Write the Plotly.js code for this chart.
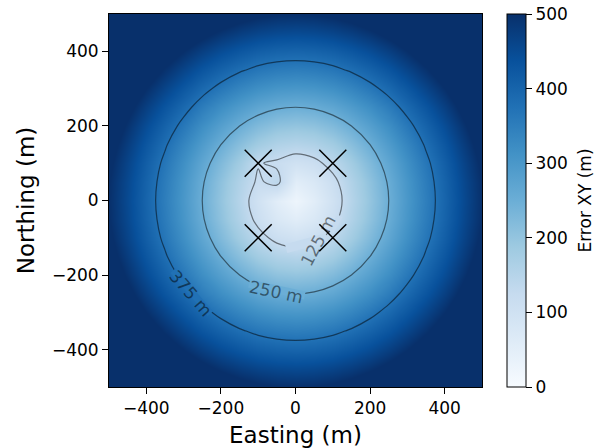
<!DOCTYPE html>
<html>
<head>
<meta charset="utf-8">
<script src="https://cdn.plot.ly/plotly-3.0.1.min.js"></script>
<style>html,body{margin:0;padding:0;background:#fff;}#chart{width:599px;height:448px;}</style>
</head>
<body>
<div id="chart"></div>
<script>
// Grid coordinates (m)
const easting = [-500,-450,-400,-350,-300,-250,-200,-150,-100,-50,0,50,100,150,200,250,300,350,400,450,500];
const northing = [-500,-450,-400,-350,-300,-250,-200,-150,-100,-50,0,50,100,150,200,250,300,350,400,450,500];

// Error XY (m), rows = northing (south to north), columns = easting (west to east)
const errorXY = [
  [707,673,640,610,583,559,539,522,510,502,500,502,510,522,539,559,583,610,640,673,707],
  [673,636,602,570,541,515,492,474,461,453,450,453,461,474,492,515,541,570,602,636,673],
  [640,602,566,532,500,472,447,427,412,403,400,403,412,427,447,472,500,532,566,602,640],
  [610,570,532,495,461,430,403,381,364,354,350,354,364,381,403,430,461,495,532,570,610],
  [583,541,500,461,424,391,361,335,316,304,300,304,316,335,361,391,424,461,500,541,583],
  [559,515,472,430,391,354,320,292,269,255,250,255,269,292,320,354,391,430,472,515,559],
  [539,492,447,403,361,320,283,250,224,206,200,206,224,250,283,320,361,403,447,492,539],
  [522,474,427,381,335,292,250,212,180,158,150,158,180,212,250,292,335,381,427,474,522],
  [510,461,412,364,316,269,224,180,141,112,100,112,141,180,224,269,316,364,412,461,510],
  [502,453,403,354,304,255,206,158,112,75,55,75,112,158,206,255,304,354,403,453,502],
  [500,450,400,350,300,250,200,150,100,55,25,55,100,150,200,250,300,350,400,450,500],
  [502,453,403,354,304,255,206,158,118,140,55,75,112,158,206,255,304,354,403,453,502],
  [510,461,412,364,316,269,224,180,128,118,100,112,141,180,224,269,316,364,412,461,510],
  [522,474,427,381,335,292,250,212,180,158,150,158,180,212,250,292,335,381,427,474,522],
  [539,492,447,403,361,320,283,250,224,206,200,206,224,250,283,320,361,403,447,492,539],
  [559,515,472,430,391,354,320,292,269,255,250,255,269,292,320,354,391,430,472,515,559],
  [583,541,500,461,424,391,361,335,316,304,300,304,316,335,361,391,424,461,500,541,583],
  [610,570,532,495,461,430,403,381,364,354,350,354,364,381,403,430,461,495,532,570,610],
  [640,602,566,532,500,472,447,427,412,403,400,403,412,427,447,472,500,532,566,602,640],
  [673,636,602,570,541,515,492,474,461,453,450,453,461,474,492,515,541,570,602,636,673],
  [707,673,640,610,583,559,539,522,510,502,500,502,510,522,539,559,583,610,640,673,707]
];

// Station positions (m)
const stationE = [-100, 100, -100, 100];
const stationN = [100, 100, -100, -100];

// Contour levels and labels
const contourLevels = [125, 250, 375];
const contourLabels = ['125 m', '250 m', '375 m'];

// Tick labels
const axisTickVals = [-400, -200, 0, 200, 400];
const axisTickText = ['\u2212400', '\u2212200', '0', '200', '400'];
const cbTickVals = [0, 100, 200, 300, 400, 500];
const cbTickText = ['0', '100', '200', '300', '400', '500'];

const blues = [
  [0.0, '#f7fbff'], [0.125, '#deebf7'], [0.25, '#c6dbef'], [0.375, '#9ecae1'],
  [0.5, '#6baed6'], [0.625, '#4292c6'], [0.75, '#2171b5'], [0.875, '#08519c'], [1.0, '#08306b']
];

const FONT = 'DejaVu Sans, Verdana, sans-serif';
const NBSP = '\u00a0';

const heat = {
  type: 'heatmap', x: easting, y: northing, z: errorXY,
  zmin: 0, zmax: 500, zsmooth: 'best', colorscale: blues,
  hoverinfo: 'skip',
  colorbar: {
    x: 1.067, xanchor: 'left', xpad: 0, y: 0.5, yanchor: 'middle', ypad: 0,
    len: 1, lenmode: 'fraction', thickness: 19,
    outlinewidth: 1, outlinecolor: '#000',
    tickmode: 'array', tickvals: cbTickVals, ticktext: cbTickText.map(t => t + NBSP),
    ticks: 'outside', ticklen: 6, tickwidth: 1, tickcolor: '#000',
    tickfont: {family: FONT, size: 17, color: '#000'},
    title: {text: 'Error XY (m)', side: 'right', font: {family: FONT, size: 17, color: '#000'}}
  }
};

const cont = {
  type: 'contour', x: easting, y: northing, z: errorXY,
  autocontour: false,
  contours: {start: contourLevels[0], end: contourLevels[2], size: contourLevels[1] - contourLevels[0], coloring: 'none', showlabels: false},
  line: {color: 'rgba(0,0,0,0.5)', width: 1.2, smoothing: 1},
  showscale: false, hoverinfo: 'skip'
};

const stations = {
  type: 'scatter', mode: 'markers', x: stationE, y: stationN,
  marker: {symbol: 'x-thin', size: 27, color: '#000', line: {color: '#000', width: 1.5}},
  hoverinfo: 'skip', cliponaxis: false
};

// Thin background-coloured bands that open a gap in the contour line under each label
const masks = [
  {x: 30.8, y: -115, textangle: -15, width: 41, height: 8, bgcolor: '#c6dbef'},
  {x: 107.4, y: -62, textangle: -60, width: 17, height: 5, bgcolor: '#c6dbef'},
  {x: -50.8, y: -238, textangle: 12, width: 56, height: 7, bgcolor: '#6baed6'},
  {x: -278.2, y: -244.6, textangle: 49, width: 56, height: 6, bgcolor: '#2171b5'}
].map(a => Object.assign({xref: 'x', yref: 'y', showarrow: false, text: '\u00a0', font: {size: 1}, borderpad: 0}, a));

const labelFont = {family: FONT, size: 17, color: 'rgba(0,0,0,0.5)'};
const labels = [
  {x: 60, y: -108, text: contourLabels[0], textangle: -62},
  {x: -52, y: -244, text: contourLabels[1], textangle: 12},
  {x: -281, y: -247, text: contourLabels[2], textangle: 49}
].map(a => Object.assign({xref: 'x', yref: 'y', showarrow: false, font: labelFont, borderpad: 0}, a));

const axisCommon = {
  range: [-500, 500], tickmode: 'array', tickvals: axisTickVals, ticktext: axisTickText,
  ticks: 'outside', ticklen: 6, tickwidth: 1, tickcolor: '#000',
  showline: true, mirror: true, linecolor: '#000', linewidth: 1,
  showgrid: false, zeroline: false,
  tickfont: {family: FONT, size: 17, color: '#000'}
};

const layout = {
  width: 599, height: 448,
  margin: {l: 109, r: 117, t: 14, b: 61, autoexpand: false},
  paper_bgcolor: '#fff', plot_bgcolor: '#fff',
  showlegend: false,
  font: {family: FONT, color: '#000'},
  xaxis: Object.assign({}, axisCommon, {title: {text: 'Easting (m)', font: {family: FONT, size: 23, color: '#000'}, standoff: 11}}),
  yaxis: Object.assign({}, axisCommon, {title: {text: 'Northing (m)', font: {family: FONT, size: 23, color: '#000'}, standoff: 10}}),
  annotations: masks.concat(labels)
};

Plotly.newPlot('chart', [heat, cont, stations], layout, {displayModeBar: false, staticPlot: true});
</script>
</body>
</html>
